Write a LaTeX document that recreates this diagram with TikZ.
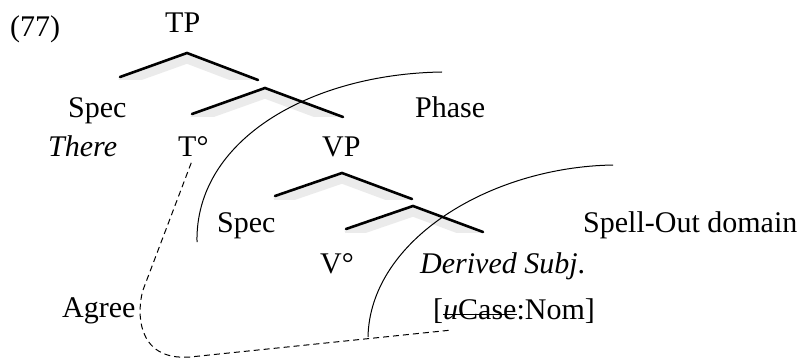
\documentclass[tikz,border=0pt]{standalone}
\usepackage{fontspec}
\setmainfont{Liberation Serif}
\usetikzlibrary{positioning,calc}

\newcommand\strk[1]{\setbox0\hbox{#1}\rlap{\rule[0.28ex]{\wd0}{0.05em}}\box0}

\tikzset{
  lbl/.style={anchor=base west, inner sep=0pt, font=\fontsize{30}{34}\selectfont},
  roof/.style={line width=2.6pt, line cap=round},
  roofshade/.style={line width=9pt, black!8},
  phaseline/.style={line width=1pt},
  agreeline/.style={line width=1pt, dash pattern=on 6pt off 4pt},
}

\begin{document}
\begin{tikzpicture}[x=1pt, y=-1pt]
    \useasboundingbox (0,0) rectangle (802,358);
    % labels
    \node[lbl] (num) at (10,37) {(77)};
    \node[lbl] (tp) at (165,33) {TP};
    \node[lbl] (spec1) at (68,118) {Spec};
    \node[lbl] (phase) at (415,118) {Phase};
    \node[lbl] (there) at (48,157) {\textit{There}};
    \node[lbl] (tdeg) at (178,157) {T°};
    \node[lbl] (vp) at (322,157) {VP};
    \node[lbl] (spec2) at (217,232) {Spec};
    \node[lbl] (spell) at (583,232) {Spell-Out domain};
    \node[lbl] (vdeg) at (320,273) {V°};
    \node[lbl] (subj) at (420,273) {\textit{Derived Subj}.};
    \node[lbl] (agree) at (62,317) {Agree};
    \node[lbl] (case) at (433,319) {[\strk{\textit{u}Case}:Nom]};
    % roofs
    \coordinate (tp-l) at (120,77);  \coordinate (tp-a) at (187,53);  \coordinate (tp-r) at (258,80);
    \coordinate (tb-l) at (192,114); \coordinate (tb-a) at (265,88);  \coordinate (tb-r) at (343,117);
    \coordinate (vp-l) at (275,196); \coordinate (vp-a) at (342,173); \coordinate (vp-r) at (412,199);
    \coordinate (vb-l) at (346,229); \coordinate (vb-a) at (413,206); \coordinate (vb-r) at (483,232);
    \foreach \r/\b in {tp/80, tb/117, vp/199, vb/232} {
      \begin{scope}
        \clip (0,0) rectangle (802,\b);
        \draw[roofshade] ([yshift=-6pt]\r-l) -- ([yshift=-6pt]\r-a) -- ([yshift=-6pt]\r-r);
      \end{scope}
    }
    \foreach \r in {tp, tb, vp, vb}
      \draw[roof] (\r-l) -- (\r-a) -- (\r-r);
    % phase boundaries
    \draw[phaseline] (442,72) .. controls (310,74) and (195,140) .. (197,242);
    \draw[phaseline] (613,165) .. controls (490,167) and (370,240) .. (368,337);
    % agree
    \coordinate (agr-end) at (452,330);
    \draw[agreeline, shorten <=6pt] (tdeg.south) -- (143,290)
      .. controls (137,310) and (135,361) .. (190,357) -- (agr-end);
\end{tikzpicture}
\end{document}
